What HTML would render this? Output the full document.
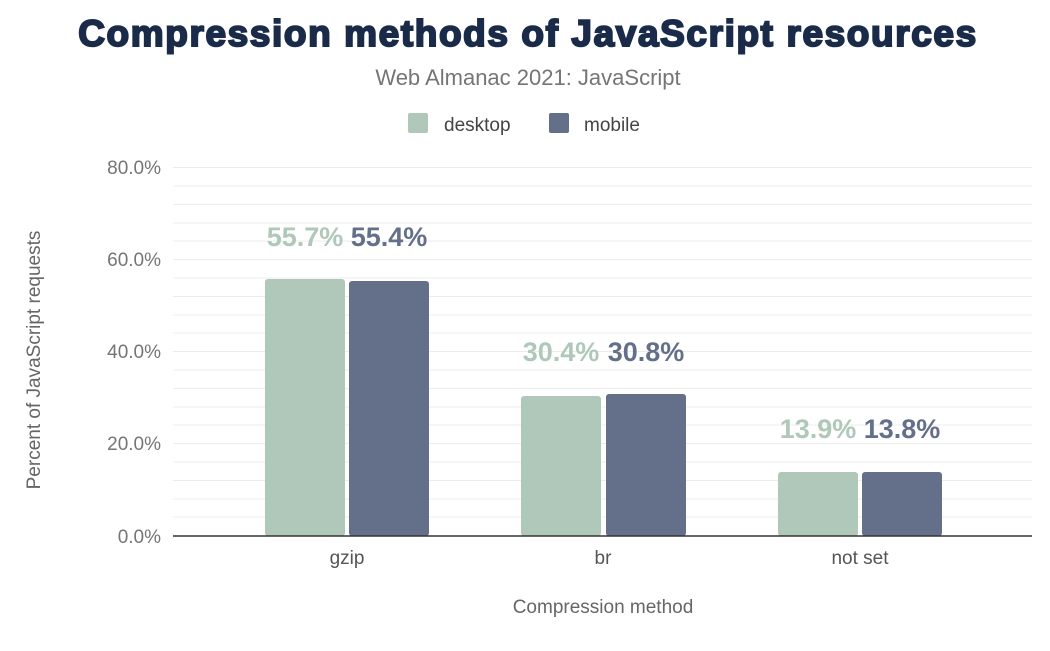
<!DOCTYPE html>
<html><head><meta charset="utf-8"><style>
body{margin:0;background:#fff;}
svg text{font-family:"Liberation Sans",Arial,sans-serif;}
</style></head><body>
<svg width="1050" height="646" viewBox="0 0 1050 646" xmlns="http://www.w3.org/2000/svg">
<rect width="1050" height="646" fill="#fff"/>
<text x="528" y="46" text-anchor="middle" font-size="37" font-weight="900" fill="#1a2b49" style="letter-spacing:1.6px" stroke="#1a2b49" stroke-width="2">Compression methods of JavaScript resources</text>
<text x="528" y="85" text-anchor="middle" font-size="22" fill="#757575">Web Almanac 2021: JavaScript</text>
<rect x="408" y="113" width="20" height="20" rx="2" fill="#afc8b9"/>
<text x="444" y="131" font-size="19" fill="#444">desktop</text>
<rect x="549" y="113" width="20" height="20" rx="2" fill="#64708a"/>
<text x="584" y="131" font-size="19" fill="#444">mobile</text>
<g stroke="#ececec" stroke-width="1">
<line x1="173" x2="1032" y1="167.5" y2="167.5"/>
<line x1="173" x2="1032" y1="186" y2="186"/>
<line x1="173" x2="1032" y1="204.5" y2="204.5"/>
<line x1="173" x2="1032" y1="223" y2="223"/>
<line x1="173" x2="1032" y1="241" y2="241"/>
<line x1="173" x2="1032" y1="259.5" y2="259.5"/>
<line x1="173" x2="1032" y1="278" y2="278"/>
<line x1="173" x2="1032" y1="296.5" y2="296.5"/>
<line x1="173" x2="1032" y1="315" y2="315"/>
<line x1="173" x2="1032" y1="333" y2="333"/>
<line x1="173" x2="1032" y1="351.5" y2="351.5"/>
<line x1="173" x2="1032" y1="370" y2="370"/>
<line x1="173" x2="1032" y1="388.5" y2="388.5"/>
<line x1="173" x2="1032" y1="407" y2="407"/>
<line x1="173" x2="1032" y1="425" y2="425"/>
<line x1="173" x2="1032" y1="443.5" y2="443.5"/>
<line x1="173" x2="1032" y1="462" y2="462"/>
<line x1="173" x2="1032" y1="480.5" y2="480.5"/>
<line x1="173" x2="1032" y1="499" y2="499"/>
<line x1="173" x2="1032" y1="517" y2="517"/>
</g>
<g font-size="19" fill="#757575" text-anchor="end">
<text x="161" y="174">80.0%</text>
<text x="161" y="266">60.0%</text>
<text x="161" y="358">40.0%</text>
<text x="161" y="450">20.0%</text>
<text x="161" y="543">0.0%</text>
</g>
<g fill="#afc8b9">
<rect x="265" y="279" width="80" height="257" rx="3"/>
<rect x="521" y="396" width="80" height="140" rx="3"/>
<rect x="778" y="472" width="80" height="64" rx="3"/>
</g>
<g fill="#64708a">
<rect x="349" y="281" width="80" height="255" rx="3"/>
<rect x="606" y="394" width="80" height="142" rx="3"/>
<rect x="862" y="472" width="80" height="64" rx="3"/>
</g>
<line x1="173" x2="1032" y1="536" y2="536" stroke="#333" stroke-width="1.5"/>
<g font-size="27" font-weight="bold" text-anchor="middle">
<text x="305" y="246" fill="#afc8b9">55.7%</text>
<text x="389" y="246" fill="#64708a">55.4%</text>
<text x="561" y="361" fill="#afc8b9">30.4%</text>
<text x="646" y="361" fill="#64708a">30.8%</text>
<text x="818" y="438" fill="#afc8b9">13.9%</text>
<text x="902" y="438" fill="#64708a">13.8%</text>
</g>
<g font-size="19" fill="#555" text-anchor="middle">
<text x="347" y="564">gzip</text>
<text x="603" y="564">br</text>
<text x="860" y="564">not set</text>
</g>
<text x="603" y="613" text-anchor="middle" font-size="19" fill="#666">Compression method</text>
<text transform="translate(40,360) rotate(-90)" text-anchor="middle" font-size="19" fill="#666">Percent of JavaScript requests</text>
</svg>
</body></html>
